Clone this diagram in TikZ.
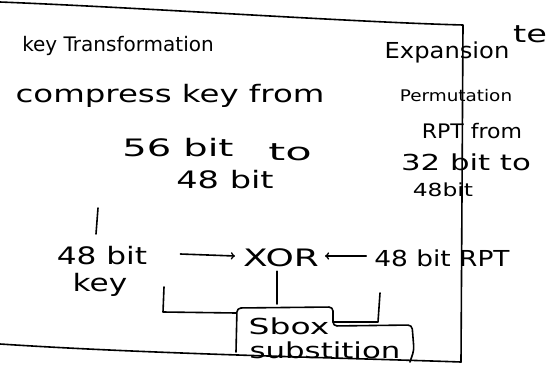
\documentclass[tikz,border=0pt]{standalone}
\usepackage{fontspec}
\setmainfont{DejaVu Sans}
\newcommand{\hwide}[2]{\scalebox{#1}[1]{#2}}
\begin{document}
\begin{tikzpicture}[x=1pt,y=-1pt,
  ink/.style={line width=1.6pt,line cap=round,line join=round},
  hw/.style={inner sep=0pt},
  f16/.style={font=\fontsize{16}{18}\selectfont},
  f18/.style={font=\fontsize{18}{20}\selectfont},
  f20/.style={font=\fontsize{20}{22}\selectfont},
  f22/.style={font=\fontsize{22}{24}\selectfont},
  f24/.style={font=\fontsize{24}{26}\selectfont}]
\useasboundingbox[fill=white] (0,0) rectangle (552,367);
% frame lines
\coordinate (tl) at (0,2);
\coordinate (tr) at (463,25);
\coordinate (br) at (461,362);
\coordinate (bl) at (0,344);
\draw[ink] (tl) .. controls (150,8) and (350,22) .. (tr) -- (br);
\draw[ink] (bl) .. controls (150,354) and (350,358) .. (br);
% texts
\node[hw,f24] (te) at (530,34) {\hwide{1.4}{te}};
\node[hw,f20] (kt) at (118,46) {\hwide{1.0}{key Transformation}};
\node[hw,f22] (exp) at (447,52) {\hwide{1.1}{Expansion}};
\node[hw,f24] (comp) at (170,96) {\hwide{1.35}{compress key from}};
\node[hw,f16] (perm) at (456,96) {\hwide{1.15}{Permutation}};
\node[hw,f24] (b56) at (178,148) {\hwide{1.6}{56 bit}};
\node[hw,f24] (to) at (290,152) {\hwide{1.8}{to}};
\node[hw,f20] (rpt) at (472,131) {\hwide{1.1}{RPT from}};
\node[hw,f22] (b32) at (466,162) {\hwide{1.4}{32 bit to}};
\node[hw,f24] (b48a) at (225,180) {\hwide{1.4}{48 bit}};
\node[hw,f18] (b48b) at (443,190) {\hwide{1.3}{48bit}};
\node[hw,f24] (b48k) at (102,256) {\hwide{1.3}{48 bit}};
\node[hw,f24] (key) at (100,285) {\hwide{1.3}{key}};
\node[hw,f24] (xor) at (281,258) {\hwide{1.5}{XOR}};
\node[hw,f22] (b48r) at (442,258) {\hwide{1.2}{48 bit RPT}};
\node[hw,f22] (sbox) at (289,326) {\hwide{1.5}{Sbox}};
\node[hw,f22] (subs) at (325,350) {\hwide{1.4}{substition}};
% connectors
\coordinate (s1) at (98,208);
\coordinate (s2) at (96,234);
\draw[ink] (s1) -- (s2);
\draw[ink,->] ([xshift=33pt,yshift=2pt]b48k.east) -- ([xshift=-8pt,yshift=2pt]xor.west);
\draw[ink,->] ([xshift=-8pt,yshift=2pt]b48r.west) -- ([xshift=6pt,yshift=2pt]xor.east);
\draw[ink] (164,287) -- (163,312) -- (236,313);
\draw[ink] ([xshift=-4pt,yshift=-4pt]xor.south) -- (277,304);
\draw[ink] (380,293) -- (378,322) -- (333,322);
\draw[ink,rounded corners=4pt] (236,352) -- (237,308) -- (333,307) -- (333,326) -- (412,325) -- (414,350) -- (410,362);
\end{tikzpicture}
\end{document}
